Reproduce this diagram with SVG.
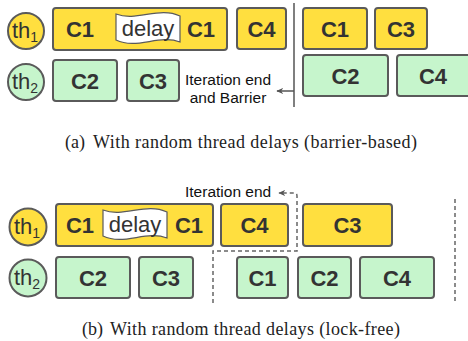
<svg xmlns="http://www.w3.org/2000/svg" width="468" height="341" viewBox="0 0 468 341">
<defs>
<style>
.y{fill:#FFDF3F;stroke:#5a5a5a;stroke-width:2}
.g{fill:#C6F5CC;stroke:#5a5a5a;stroke-width:2}
.fl{fill:#fff;stroke:#5a5a5a;stroke-width:1.2}
.c{font-family:"Liberation Sans",Arial,sans-serif;font-weight:bold;font-size:22px;fill:#333;text-anchor:middle}
.d{font-family:"Liberation Sans",Arial,sans-serif;font-size:22px;fill:#333;text-anchor:middle}
.th{font-family:"Liberation Sans",Arial,sans-serif;font-size:22px;fill:#333}
.l{font-family:"Liberation Sans",Arial,sans-serif;font-size:15.5px;fill:#111}
.cap{font-family:"Liberation Serif","Times New Roman",serif;font-size:18px;fill:#222}
.ln{fill:none;stroke:#555;stroke-width:1.5}
.dash{fill:none;stroke:#666;stroke-width:1.5;stroke-dasharray:4 3}
</style>
<marker id="ah" viewBox="0 0 10 10" refX="9" refY="5" markerWidth="7" markerHeight="7" orient="auto" markerUnits="userSpaceOnUse">
<path d="M10,5 L0,0.5 L3,5 L0,9.5 Z" fill="#555"/>
</marker>
</defs>

<!-- (a) barrier-based -->
<g id="a-th1"><circle cx="26" cy="31" r="18" class="y"/><text x="12" y="38" class="th">th<tspan font-size="14" dy="4">1</tspan></text></g>
<g id="a-th2"><circle cx="26" cy="82" r="18" class="g"/><text x="12" y="89" class="th">th<tspan font-size="14" dy="4">2</tspan></text></g>
<g id="a-c1delay">
<rect x="53" y="8" width="174" height="42" rx="3" class="y"/>
<path class="fl" d="M116,14 C137,22 159,6 180,16 L180,42 C159,34 137,50 116,40 Z"/>
<text x="80" y="37" class="c">C1</text>
<text x="148" y="36" class="d">delay</text>
<text x="201" y="37" class="c">C1</text>
</g>
<g id="a-c4y"><rect x="237" y="8" width="49" height="41" rx="3" class="y"/><text x="261.5" y="36.5" class="c">C4</text></g>
<g id="a-c1y"><rect x="303" y="8" width="64" height="41" rx="3" class="y"/><text x="335" y="36.5" class="c">C1</text></g>
<g id="a-c3y"><rect x="375" y="8" width="52" height="41" rx="3" class="y"/><text x="401" y="36.5" class="c">C3</text></g>
<g id="a-c2g"><rect x="53" y="60" width="64" height="41" rx="3" class="g"/><text x="85" y="88.5" class="c">C2</text></g>
<g id="a-c3g"><rect x="127" y="60" width="52" height="41" rx="3" class="g"/><text x="153" y="88.5" class="c">C3</text></g>
<g id="a-c2g2"><rect x="303" y="55" width="85" height="41" rx="3" class="g"/><text x="345.5" y="83.5" class="c">C2</text></g>
<g id="a-c4g"><rect x="397" y="55" width="80" height="41" rx="3" class="g"/><text x="433" y="83.5" class="c">C4</text></g>
<g id="a-label"><text x="228" y="85" class="l" text-anchor="middle">Iteration end</text><text x="228" y="103" class="l" text-anchor="middle">and Barrier</text></g>

<!-- (b) lock-free -->
<g id="b-th1"><circle cx="28" cy="227" r="18.5" class="y"/><text x="14" y="234" class="th">th<tspan font-size="14" dy="4">1</tspan></text></g>
<g id="b-th2"><circle cx="28" cy="278" r="18.5" class="g"/><text x="14" y="285" class="th">th<tspan font-size="14" dy="4">2</tspan></text></g>
<g id="b-c1delay">
<rect x="56" y="204" width="157" height="42" rx="3" class="y"/>
<path class="fl" d="M103,210 C124,218 146,202 167,212 L167,238 C146,230 124,246 103,236 Z"/>
<text x="80" y="233" class="c">C1</text>
<text x="135" y="232" class="d">delay</text>
<text x="189" y="233" class="c">C1</text>
</g>
<g id="b-c4y"><rect x="221" y="204" width="67" height="42" rx="3" class="y"/><text x="254.5" y="233" class="c">C4</text></g>
<g id="b-c3y"><rect x="303" y="204" width="89" height="42" rx="3" class="y"/><text x="347.5" y="233" class="c">C3</text></g>
<g id="b-c2g"><rect x="56" y="257" width="74" height="41" rx="3" class="g"/><text x="93" y="285.5" class="c">C2</text></g>
<g id="b-c3g"><rect x="139" y="257" width="54" height="41" rx="3" class="g"/><text x="166" y="285.5" class="c">C3</text></g>
<g id="b-c1g"><rect x="237" y="257" width="51" height="41" rx="3" class="g"/><text x="262.5" y="285.5" class="c">C1</text></g>
<g id="b-c2g2"><rect x="298" y="257" width="53" height="41" rx="3" class="g"/><text x="324.5" y="285.5" class="c">C2</text></g>
<g id="b-c4g"><rect x="360" y="257" width="74" height="41" rx="3" class="g"/><text x="397" y="285.5" class="c">C4</text></g>
<g id="b-label"><text x="185" y="197" class="l">Iteration end</text></g>

<g id="connectors">
<line x1="294" y1="3" x2="294" y2="107" class="ln"/>
<line x1="294" y1="91" x2="277" y2="91" class="ln" marker-end="url(#ah)"/>
<path class="dash" d="M213,303 L213,251 L297,251 L297,196 Q297,193 294,193 L279,193" marker-end="url(#ah)"/>
<line x1="455" y1="199" x2="455" y2="302" class="dash"/>
</g>

<g id="captions">
<text x="65" y="148" class="cap">(a)</text><text x="93" y="148" class="cap" textLength="324" lengthAdjust="spacing">With random thread delays (barrier-based)</text>
<text x="82" y="335" class="cap">(b)</text><text x="110" y="335" class="cap" textLength="290" lengthAdjust="spacing">With random thread delays (lock-free)</text>
</g>
</svg>
